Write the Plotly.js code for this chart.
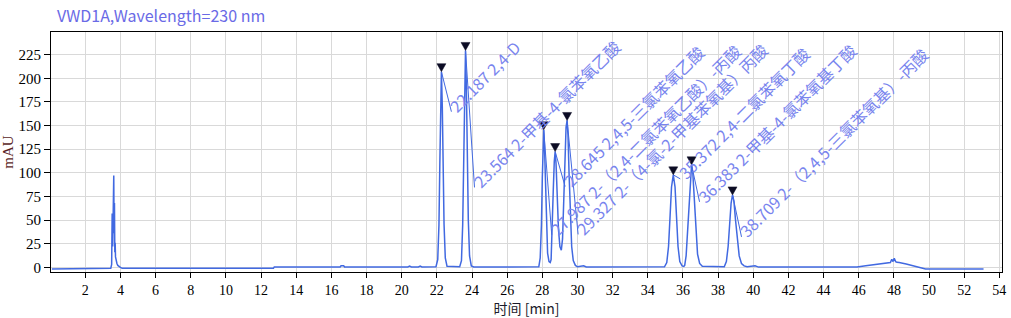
<!DOCTYPE html>
<html>
<head>
<meta charset="utf-8">
<script src="https://cdn.plot.ly/plotly-3.0.1.min.js"></script>
<style>html,body{margin:0;padding:0;background:#fff;}#chart{width:1011px;height:318px;}</style>
</head>
<body>
<div id="chart"></div>
<script>
// ---- chromatogram signal ----
var baseTime = [0.1, 0.75, 0.76, 3.45, 3.5, 3.53, 3.56, 3.58, 3.6, 3.62, 3.64, 3.66, 3.68, 3.7, 3.72, 3.75, 3.8, 3.85, 3.9, 4.0, 4.1, 12.7, 12.75, 16.5, 16.55, 16.7, 16.75, 20.35, 20.45, 20.55, 20.95, 21.05, 21.15, 21.95];
var baseSignal = [-1.8, -1.8, -1.1, -1.1, 3, 57, 22, 95, 40, 97, 36, 68, 16, 26, 11, 7, 4, 2, 1, 0, -1.1, -1.1, 0.3, 0.3, 1.6, 1.6, 0.3, 0.3, 1.2, 0.3, 0.3, 1.2, 0.3, 0.5];
var peakGroupATime = [22.05, 22.12, 22.17, 22.21, 22.26, 22.31, 22.36, 22.41, 22.48, 22.58, 23.30, 23.40, 23.47, 23.52, 23.57, 23.63, 23.68, 23.73, 23.79, 23.86, 23.96, 24.1, 27.8];
var peakGroupASignal = [8, 45, 110, 170, 207, 170, 105, 45, 10, 1, 0.5, 7, 45, 115, 185, 229.5, 190, 120, 50, 12, 1.5, 0.3, 0.5];
var peakGroupBTime = [27.88, 27.95, 28.00, 28.04, 28.08, 28.12, 28.17, 28.23, 28.30, 28.38, 28.45, 28.50, 28.56, 28.62, 28.68, 28.73, 28.78, 28.84, 28.92, 29.00, 29.08, 29.15, 29.22, 29.29, 29.35, 29.41, 29.46, 29.52, 29.59, 29.67, 29.76, 29.88, 30.0, 30.25, 30.35, 30.5, 34.95];
var peakGroupBSignal = [10, 45, 95, 130, 145.5, 130, 90, 45, 15, 6, 5, 8, 35, 80, 112, 122.5, 110, 75, 40, 22, 18, 30, 70, 120, 148, 155.4, 140, 100, 55, 22, 7, 2, 0.5, 1.6, 1.6, 0.3, 0.5];
var peakGroupCTime = [35.08, 35.18, 35.27, 35.35, 35.45, 35.55, 35.63, 35.72, 35.82, 35.95, 36.05, 36.10, 36.18, 36.27, 36.36, 36.43, 36.49, 36.56, 36.64, 36.73, 36.83, 36.95, 37.1, 38.35, 38.47, 38.57, 38.66, 38.74, 38.82, 38.90, 38.99, 39.09, 39.20, 39.33, 39.48, 39.65, 39.95, 40.1, 40.3];
var peakGroupCSignal = [5, 22, 55, 85, 97.8, 85, 55, 22, 6, 1.5, 1, 2, 12, 40, 80, 102, 108.4, 100, 72, 38, 14, 4, 1, 0.5, 6, 22, 45, 68, 76.6, 70, 50, 28, 12, 4, 1.5, 0.5, 1.5, 1.5, 0.2];
var tailTime = [45.9, 46.4, 46.9, 47.4, 47.8, 47.88, 47.95, 48.02, 48.1, 48.18, 48.3, 48.7, 49.2, 49.8, 53.1];
var tailSignal = [0.2, 1.5, 3, 4.3, 5, 8.5, 6, 9.5, 6, 5.2, 5, 3.5, 1, -1.8, -1.8];

// ---- integrated peaks ----
var peakApexTime = [22.26, 23.63, 28.08, 28.73, 29.41, 35.45, 36.49, 38.82];
var peakHeight = [207, 229.5, 145.5, 122.5, 155.4, 97.8, 108.4, 76.6];
var peakLabels = [
  "22.187 2,4-D",
  "23.564 2-甲基-4-氯苯氧乙酸",
  "27.987 2-（2,4-二氯苯氧乙酸）-丙酸",
  "28.645 2,4,5-三氯苯氧乙酸",
  "29.327 2-（4-氯-2-甲基苯氧基）丙酸",
  "35.372 2,4-二氯苯氧丁酸",
  "36.383 2-甲基-4-氯苯氧基丁酸",
  "38.709 2-（2,4,5-三氯苯氧基）-丙酸"
];

// ---- axis ticks ----
var xTicks = [2,4,6,8,10,12,14,16,18,20,22,24,26,28,30,32,34,36,38,40,42,44,46,48,50,52,54];
var yTicks = [0,25,50,75,100,125,150,175,200,225];

// ---- layout-only settings (pixel offsets of label start from each apex) ----
var labelDx = [10, 9, 8, 10, 11, 7, 8, 9];
var labelDy = [40, 137, 105, 35, 114, 4, 37, 42];

var time = [].concat(baseTime, peakGroupATime, peakGroupBTime, peakGroupCTime, tailTime);
var signal = [].concat(baseSignal, peakGroupASignal, peakGroupBSignal, peakGroupCSignal, tailSignal);

var labelFont = "Noto Sans CJK SC, sans-serif";
var labelColor = "#7884ee";

var traces = [
  {x: time, y: signal, type: "scatter", mode: "lines",
   line: {color: "#4169e1", width: 1.5}, hoverinfo: "skip"}
];

var shapes = [];
var annotations = [];
for (var i = 0; i < peakApexTime.length; i++) {
  shapes.push({type: "line", xref: "x", yref: "y",
    xsizemode: "pixel", ysizemode: "pixel",
    xanchor: peakApexTime[i], yanchor: peakHeight[i],
    x0: 0, y0: 0, x1: labelDx[i], y1: -labelDy[i],
    line: {color: "#4169e1", width: 1}});
  // peak marker (downward triangle whose tip sits on the apex)
  shapes.push({type: "path", xref: "x", yref: "y",
    xsizemode: "pixel", ysizemode: "pixel",
    xanchor: peakApexTime[i], yanchor: peakHeight[i],
    path: "M -4.5 8 L 4.5 8 L 0 0 Z",
    fillcolor: "#0c0c24", line: {color: "#0c0c24", width: 0.5}});
  annotations.push({x: peakApexTime[i], y: peakHeight[i], xref: "x", yref: "y",
    text: peakLabels[i], showarrow: false, textangle: -45,
    xanchor: "left", yanchor: "bottom",
    xshift: labelDx[i] - 10, yshift: -(labelDy[i] + 8),
    font: {family: labelFont, size: 16, color: labelColor}});
}

var layout = {
  width: 1011, height: 318,
  margin: {l: 51, r: 9, t: 32, b: 46},
  paper_bgcolor: "#ffffff", plot_bgcolor: "#ffffff",
  showlegend: false,
  title: {text: "VWD1A,Wavelength=230 nm", x: 57/1011, xanchor: "left",
          y: 1 - 16/318, yanchor: "middle",
          font: {family: labelFont, size: 16, color: "#6a6ae6"}},
  xaxis: {range: [0.05, 54.15], tickvals: xTicks, ticktext: xTicks.map(String),
          showgrid: true, gridcolor: "#d9d9d9", gridwidth: 1,
          zeroline: false, showline: true, linecolor: "#000", linewidth: 1, mirror: true,
          ticks: "outside", ticklen: 5, tickcolor: "#000",
          tickfont: {family: "Liberation Serif, serif", size: 14, color: "#000"},
          title: {text: "时间 [min]", standoff: 0,
                  font: {family: labelFont, size: 14, color: "#1a1a2a"}}},
  yaxis: {range: [-5, 249], tickvals: yTicks, ticktext: yTicks.map(String),
          showgrid: true, gridcolor: "#d9d9d9", gridwidth: 1,
          zeroline: false, showline: true, linecolor: "#000", linewidth: 1, mirror: true,
          ticks: "outside", ticklen: 6, tickcolor: "#000",
          tickfont: {family: "Liberation Serif, serif", size: 15, color: "#000"},
          title: {text: "mAU", standoff: 4,
                  font: {family: "Liberation Serif, serif", size: 15, color: "#5a1e1e"}}},
  shapes: shapes,
  annotations: annotations
};

Plotly.newPlot("chart", traces, layout, {displayModeBar: false, staticPlot: true});
</script>
</body>
</html>
